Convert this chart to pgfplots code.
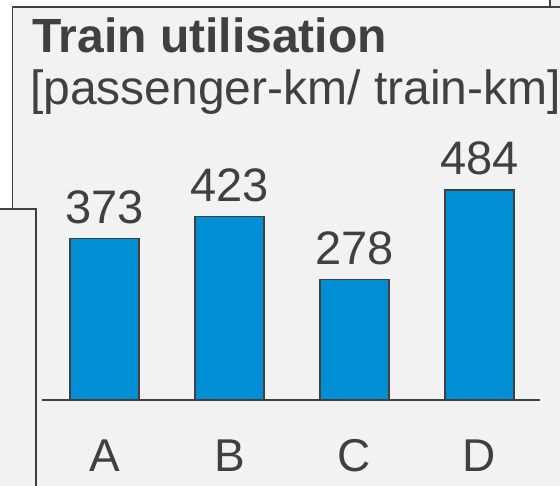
\documentclass[border=0pt]{standalone}
\usepackage{pgfplots}
\pgfplotsset{compat=1.18}
\usepackage{fontspec}
\setmainfont{Liberation Sans}
\definecolor{barblue}{RGB}{0,143,213}
\definecolor{panelgray}{RGB}{242,242,242}
\definecolor{ink}{RGB}{64,64,64}
\begin{document}
\begin{tikzpicture}[x=1pt,y=1pt]
\useasboundingbox (0,0) rectangle (560,486);
% panels behind the chart
\fill[white] (0,0) rectangle (560,486);
\fill[panelgray] (12.5,0) rectangle (560,479);
\fill[panelgray] (0,0) rectangle (36,277);
\fill[panelgray] (550,479) rectangle (560,486);
\draw[ink, line width=1.5pt] (12.5,277) -- (12.5,479) -- (560,479);
\draw[ink, line width=1.5pt] (550,479) -- (550,486);
\draw[ink, line width=1.5pt] (0,277) -- (36,277) -- (36,0);
% title
\node[anchor=base west, inner sep=0, text=ink, font=\fontsize{48}{52}\selectfont\bfseries] at (32,433) {Train utilisation};
\node[anchor=base west, inner sep=0, text=ink, font=\fontsize{48}{52}\selectfont] at (30,381) {[passenger-km/ train-km]};
\begin{axis}[
  at={(42pt,86pt)}, anchor=south west, scale only axis,
  width=498pt, height=260.4pt,
  xmin=-0.5, xmax=3.484, ymin=0, ymax=600,
  axis x line=bottom, axis y line=none,
  x axis line style={-, ink, line width=1.3pt},
  xtick=data, xticklabels={A,B,C,D},
  xtick style={draw=none},
  xticklabel style={anchor=base, yshift=-67pt, inner sep=0, text=ink, font=\fontsize{46}{50}\selectfont},
  ybar, bar width=69pt,
  nodes near coords,
  every node near coord/.append style={anchor=base, yshift=15pt, inner sep=0, text=ink, font=\fontsize{47}{50}\selectfont},
  /pgf/number format/assume math mode=true,
  clip=false,
]
\addplot[fill=barblue, draw=ink, line width=1.2pt] coordinates {(0,373) (1,423) (2,278) (3,484)};
\end{axis}
\end{tikzpicture}
\end{document}
